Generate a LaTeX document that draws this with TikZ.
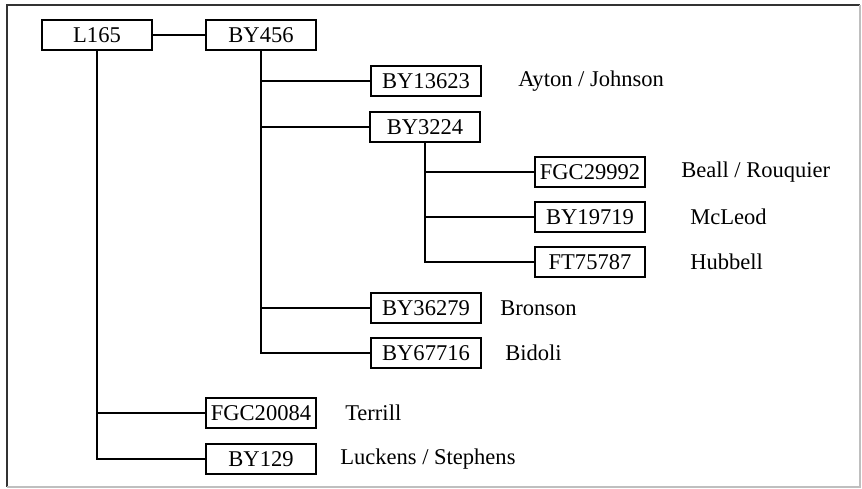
\documentclass[tikz,border=0pt]{standalone}
\usepackage{fontspec}
\setmainfont{Liberation Serif}
\usepackage{tikz}

\tikzset{
  snp/.style={draw,line width=1.4pt,minimum width=82pt,minimum height=23pt,inner sep=0pt},
  fam/.style={anchor=west,inner sep=0pt},
  branch/.style={line width=1.4pt}
}

\begin{document}
\begin{tikzpicture}[x=0.75pt,y=-0.75pt,font=\fontsize{16.9}{20}\selectfont]
  \useasboundingbox (0,0) rectangle (862,488);
  \draw[line width=1.5pt,black!80] (7,487) -- (7,5) -- (860,5);
  \draw[line width=1.2pt,black!25] (860,5) -- (860,487) -- (7,487);

  \node[snp] (l165)  at (97,35)  {L165};
  \node[snp] (by456) at (261,35) {BY456};
  \node[snp] (by13623) at (426,81) {BY13623};
  \node[snp] (by3224)  at (425,127) {BY3224};
  \node[snp] (fgc29992) at (590,172) {FGC29992};
  \node[snp] (by19719) at (590,217) {BY19719};
  \node[snp] (ft75787) at (590,262) {FT75787};
  \node[snp] (by36279) at (426,308) {BY36279};
  \node[snp] (by67716) at (426,353) {BY67716};
  \node[snp] (fgc20084) at (261,413) {FGC20084};
  \node[snp] (by129)  at (261,459) {BY129};

  % surnames
  \node[fam] (ayton)   at (518,81)  {Ayton / Johnson};
  \node[fam] (beall)   at (681,172) {Beall / Rouquier};
  \node[fam] (mcleod)  at (690,217) {McLeod};
  \node[fam] (hubbell) at (690,262) {Hubbell};
  \node[fam] (bronson) at (500,308) {Bronson};
  \node[fam] (bidoli)  at (505,353) {Bidoli};
  \node[fam] (terrill) at (345,413) {Terrill};
  \node[fam] (luckens) at (340,459) {Luckens / Stephens};

  \draw[branch] (l165) -- (by456);
  \draw[branch] (l165.south) |- (by129.west);
  \draw[branch] (l165.south |- fgc20084.west) -- (fgc20084.west);
  \draw[branch] (by456.south) |- (by67716.west);
  \draw[branch] (by456.south |- by13623.west) -- (by13623.west);
  \draw[branch] (by456.south |- by3224.west) -- (by3224.west);
  \draw[branch] (by456.south |- by36279.west) -- (by36279.west);
  \draw[branch] (by3224.south) |- (ft75787.west);
  \draw[branch] (by3224.south |- fgc29992.west) -- (fgc29992.west);
  \draw[branch] (by3224.south |- by19719.west) -- (by19719.west);
\end{tikzpicture}
\end{document}
